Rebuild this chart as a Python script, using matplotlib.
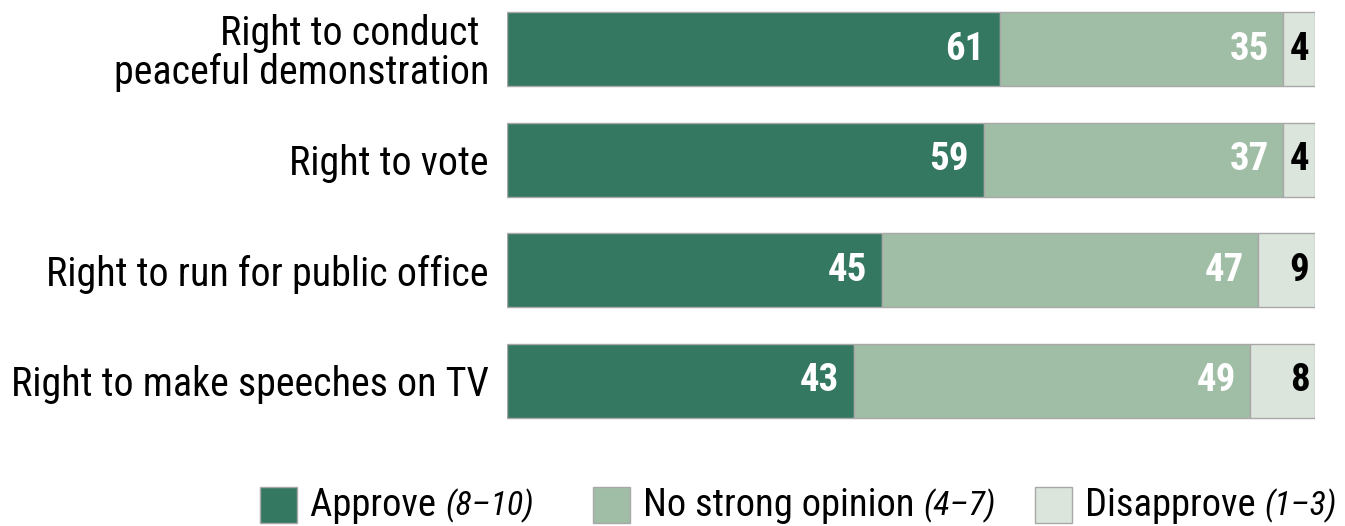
import matplotlib
matplotlib.use("Agg")
import matplotlib.pyplot as plt
from matplotlib.patches import Rectangle

# data
categories = ["Right to conduct \npeaceful demonstration", "Right to vote",
              "Right to run for public office", "Right to make speeches on TV"]
approve = [61, 59, 46.4, 43]          # bar widths (share of bar)
no_opinion = [35, 37, 46.5, 49]
disapprove = [4, 4, 7.1, 8]
approve_lbl = ["61", "59", "45", "43"]  # printed numbers
no_opinion_lbl = ["35", "37", "47", "49"]
disapprove_lbl = ["4", "4", "9", "8"]
legend_names = ["Approve", "No strong opinion", "Disapprove"]
legend_scales = ["(8\u201310)", "(4\u20137)", "(1\u20133)"]

colors = ["#347862", "#a0bea5", "#dbe5db"]
txt_colors = ["white", "white", "black"]
offsets = [-11, -10, -4]
FONT = ["Roboto Condensed", "Archivo Narrow", "DejaVu Sans"]

W, H = 1345, 526
fig = plt.figure(figsize=(W / 100, H / 100), dpi=100)
ax = fig.add_axes([507 / W, 100 / H, 808 / W, 422 / H])

ypos = list(range(len(categories)))
left = [0] * len(categories)
series = [(approve, approve_lbl), (no_opinion, no_opinion_lbl), (disapprove, disapprove_lbl)]
for k, (vals, lbls) in enumerate(series):
    bars = ax.barh(ypos, vals, left=left, height=0.67, color=colors[k],
                   edgecolor="#a8a8a8", linewidth=1.0)
    for b, t in zip(bars, lbls):
        ax.annotate(t, (b.get_x() + b.get_width(), b.get_y() + b.get_height() / 2),
                    xytext=(offsets[k], 0), textcoords="offset points",
                    ha="right", va="center", fontsize=28, fontweight="bold",
                    color=txt_colors[k], family=FONT)
    left = [l + v for l, v in zip(left, vals)]

ax.set_xlim(0, 100)
ax.set_ylim(3.407, -0.407)
ax.set_yticks(ypos)
ax.set_yticklabels(categories, fontsize=28.8, family=FONT, linespacing=1.0)
ax.tick_params(axis="y", length=0, pad=13)
ax.set_xticks([])
for s in ax.spines.values():
    s.set_visible(False)

# legend drawn by hand (mixed upright / italic text)
fig.canvas.draw()
renderer = fig.canvas.get_renderer()
box_x = [260, 593, 1035]
for k in range(3):
    fig.patches.append(Rectangle((box_x[k] / W, 3 / H), 37 / W, 36 / H,
                                 transform=fig.transFigure, facecolor=colors[k],
                                 edgecolor="#a8a8a8", linewidth=1.0))
    t1 = fig.text((box_x[k] + 50) / W, 20 / H, legend_names[k] + " ", fontsize=27.8,
                  family=FONT, ha="left", va="center")
    bb = t1.get_window_extent(renderer)
    fig.text(bb.x1 / W, 20 / H, legend_scales[k], fontsize=24.5, style="italic",
             family=FONT, ha="left", va="center")

fig.savefig("out.png", dpi=100)
